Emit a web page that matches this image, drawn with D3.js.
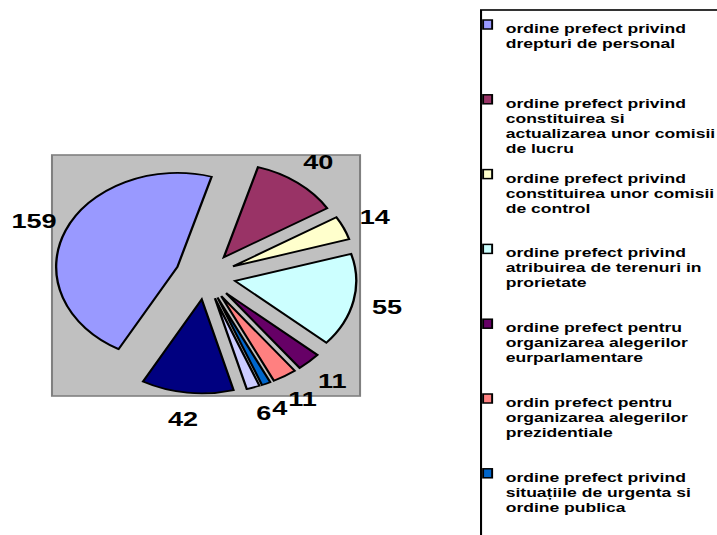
<!DOCTYPE html>
<html>
<head>
<meta charset="utf-8">
<script src="https://cdn.jsdelivr.net/npm/d3@7"></script>
<style>
  body { margin: 0; background: #fff; overflow: hidden; }
  svg { display: block; }
</style>
</head>
<body>
<div id="chart"></div>
<script>
// data
// legend labels, with the line breaks as they show in the picture
const categories = [
    'ordine prefect privind\ndrepturi de personal',
    'ordine prefect privind\nconstituirea si\nactualizarea unor comisii\nde lucru',
    'ordine prefect privind\nconstituirea unor comisii\nde control',
    'ordine prefect privind\natribuirea de terenuri in\nprorietate',
    'ordine prefect pentru\norganizarea alegerilor\neurparlamentare',
    'ordin prefect pentru\norganizarea alegerilor\nprezidentiale',
    'ordine prefect privind\nsituațiile de urgenta si\nordine publica',
    '', // last two entries are cut off below the window in the reference
    ''
]
const values = [159, 40, 14, 55, 11, 11, 4, 6, 42]

// old excel palette
const colors = ['#9999FF', '#993366', '#FFFFCC', '#CCFFFF', '#660066', '#FF8080', '#0066CC', '#CCCCFF', '#000080']

// svg setup
const svgWidth = 717
const svgHeight = 535
const stretch = 1.29 // the whole picture is pulled wider than tall

const svg = d3.select('#chart')
    .append('svg')
    .attr('width', svgWidth)
    .attr('height', svgHeight)

const g = svg.append('g')
    .attr('transform', 'scale(' + stretch + ',1)')

const font = '"Liberation Sans", Arial, sans-serif'

// plot area
const plot = { x: 40.3, y: 155, w: 238.8, h: 241 }
g.append('rect')
    .attr('x', plot.x)
    .attr('y', plot.y)
    .attr('width', plot.w)
    .attr('height', plot.h)
    .attr('fill', '#C0C0C0')
    .attr('stroke', '#808080')
    .attr('stroke-width', 1.6)

// pie
const cx = 159.2
const cy = 276
const radius = 94
const explode = radius * 0.25
const labelRadius = 144
const start = 209 * Math.PI / 180

const pie = d3.pie()
    .sort(null)
    .startAngle(start)
    .endAngle(start + 2 * Math.PI)

const arc = d3.arc()
    .innerRadius(0)
    .outerRadius(radius)

const arcs = pie(values)
const mid = d => (d.startAngle + d.endAngle) / 2

const pieG = g.append('g')
    .attr('transform', 'translate(' + cx + ',' + cy + ')')

pieG.selectAll('.slice')
    .data(arcs)
    .join('path')
    .attr('class', 'slice')
    .attr('d', arc)
    .attr('transform', d => 'translate(' + explode * Math.sin(mid(d)) + ',' + (-explode * Math.cos(mid(d))) + ')')
    .attr('fill', (d, i) => colors[i])
    .attr('stroke', '#000')
    .attr('stroke-width', 1.8)
    .attr('stroke-linejoin', 'miter')

pieG.selectAll('.label')
    .data(arcs)
    .join('text')
    .attr('class', 'label')
    .attr('x', d => labelRadius * Math.sin(mid(d)))
    .attr('y', d => -labelRadius * Math.cos(mid(d)))
    .attr('text-anchor', 'middle')
    .attr('dominant-baseline', 'central')
    .attr('font-family', font)
    .attr('font-weight', 'bold')
    .attr('font-size', 21)
    .attr('fill', '#000')
    .text(d => d.data)

// legend
const legend = { x: 372.9, y: 10, rowTop: 19, rowStep: 74.8, lineH: 15 }

g.append('rect')
    .attr('x', legend.x)
    .attr('y', legend.y)
    .attr('width', 400)
    .attr('height', 700)
    .attr('fill', '#fff')
    .attr('stroke', '#000')
    .attr('stroke-width', 1.6)

const rows = g.selectAll('.legend-row')
    .data(categories)
    .join('g')
    .attr('class', 'legend-row')
    .attr('transform', (d, i) => 'translate(' + (legend.x + 1.6) + ',' + (legend.rowTop + i * legend.rowStep) + ')')

rows.append('rect')
    .attr('x', 0)
    .attr('y', 1)
    .attr('width', 7)
    .attr('height', 9)
    .attr('fill', (d, i) => colors[i])
    .attr('stroke', '#000')
    .attr('stroke-width', 1.5)

rows.append('text')
    .attr('x', 17.5)
    .attr('y', 14)
    .attr('font-family', font)
    .attr('font-weight', 'bold')
    .attr('font-size', 13.6)
    .attr('fill', '#000')
    .selectAll('tspan')
    .data(d => d.split('\n'))
    .join('tspan')
    .attr('x', 17.5)
    .attr('dy', (d, i) => i === 0 ? 0 : legend.lineH)
    .text(d => d)
</script>
</body>
</html>
